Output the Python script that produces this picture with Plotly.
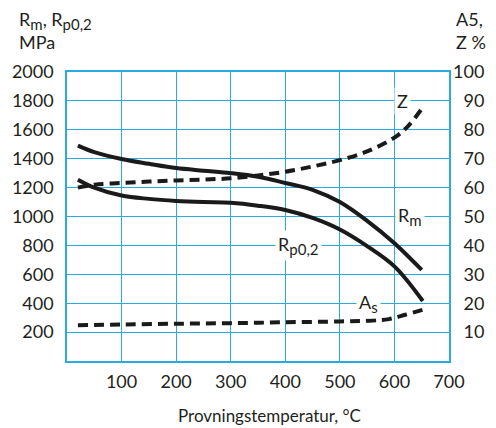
import plotly.graph_objects as go

FONT = "Lato"
TXT = "#231f20"
GRID = "#29abe2"

# Data
temp_rm = [20, 50, 100, 150, 200, 250, 300, 350, 400, 450, 500, 550, 600, 650]
rm = [1490, 1445, 1398, 1365, 1335, 1317, 1300, 1275, 1232, 1185, 1100, 970, 815, 630]

temp_rp = [20, 50, 100, 150, 200, 250, 300, 350, 400, 450, 500, 550, 600, 652]
rp = [1255, 1200, 1145, 1122, 1108, 1100, 1095, 1075, 1045, 990, 910, 795, 655, 415]

temp_z = [20, 50, 100, 150, 200, 250, 300, 350, 400, 450, 500, 550, 600, 625, 651]
z_pct = [60, 61, 61.6, 62.1, 62.5, 62.8, 63.2, 64.2, 65.5, 67.3, 69.5, 72.5, 77.3, 81.3, 87.5]

temp_as = [20, 100, 200, 300, 400, 500, 560, 590, 620, 653]
as_pct = [12.4, 12.6, 12.9, 13.1, 13.4, 13.7, 14.0, 14.5, 16.0, 17.8]

x_ticks = [100, 200, 300, 400, 500, 600, 700]
y_ticks = [200, 400, 600, 800, 1000, 1200, 1400, 1600, 1800, 2000]
y2_ticks = [10, 20, 30, 40, 50, 60, 70, 80, 90, 100]
FS = "\u2007"  # figure space for right alignment
y2_text = [(FS * (3 - len(str(v)))) + str(v) for v in y2_ticks]


def sub(s):
    return "<sub><span style='font-size:15px'>" + s + "</span></sub>"


# Curve labels: (text, x, y)
labels = [
    ("Z", 614, 1800),
    ("R" + sub("m"), 628, 1000),
    ("R" + sub("p0,2"), 424, 800),
    ("A" + sub("s"), 553, 400),
]

fig = go.Figure()
solid = dict(color="#1a1a1a", width=4, shape="spline")
dashed = dict(color="#1a1a1a", width=4, shape="spline", dash="10px,6px")

fig.add_trace(go.Scatter(x=temp_rm, y=rm, mode="lines", line=solid, name="Rm"))
fig.add_trace(go.Scatter(x=temp_rp, y=rp, mode="lines", line=solid, name="Rp0,2"))
fig.add_trace(go.Scatter(x=temp_z, y=z_pct, mode="lines", line=dashed, name="Z", yaxis="y2"))
fig.add_trace(go.Scatter(x=temp_as, y=as_pct, mode="lines", line=dashed, name="As", yaxis="y2"))

annotations = []
for text, x, y in labels:
    annotations.append(dict(text=text, x=x, y=y, xref="x", yref="y", showarrow=False,
                            bgcolor="white", borderpad=2,
                            font=dict(family=FONT, size=18, color=TXT)))

W, H = 496, 428
L, R, T, B = 62, 39, 72, 67
pw, ph = W - L - R, H - T - B
corner = [
    dict(text="R" + sub("m") + ", R" + sub("p0,2") + "<br>MPa", x=10, y=6,
         align="left", xanchor="left", yanchor="top", size=18),
    dict(text="A5,<br>Z %", x=462, y=6, align="left", xanchor="left", yanchor="top", size=18),
    dict(text="Provningstemperatur, °C", x=271, y=415, align="center", xanchor="center",
         yanchor="middle", size=17),
]
for c in corner:
    annotations.append(dict(text=c["text"], x=(c["x"] - L) / pw, y=1 - (c["y"] - T) / ph,
                            xref="paper", yref="paper", showarrow=False, align=c["align"],
                            xanchor=c["xanchor"], yanchor=c["yanchor"],
                            font=dict(family=FONT, size=c["size"], color=TXT)))

fig.update_layout(
    width=W, height=H,
    margin=dict(l=L, r=R, t=T, b=B),
    paper_bgcolor="white", plot_bgcolor="white",
    showlegend=False,
    font=dict(family=FONT, size=18, color=TXT),
    xaxis=dict(range=[0, 700], tickvals=x_ticks, showgrid=True, gridcolor=GRID, gridwidth=1.2,
               showline=True, linecolor=GRID, linewidth=1.5, mirror=True, zeroline=False,
               ticks="", ticklabelstandoff=4),
    yaxis=dict(range=[0, 2000], tickvals=y_ticks, showgrid=True, gridcolor=GRID, gridwidth=1.2,
               showline=True, linecolor=GRID, linewidth=1.5, mirror=True, zeroline=False,
               ticks="", ticklabelstandoff=8),
    yaxis2=dict(range=[0, 100], overlaying="y", side="right", showgrid=False,
                tickvals=y2_ticks, ticktext=y2_text, showline=False, zeroline=False,
                ticks="", ticklabelstandoff=3),
    annotations=annotations,
)

fig.write_html("out.html")
